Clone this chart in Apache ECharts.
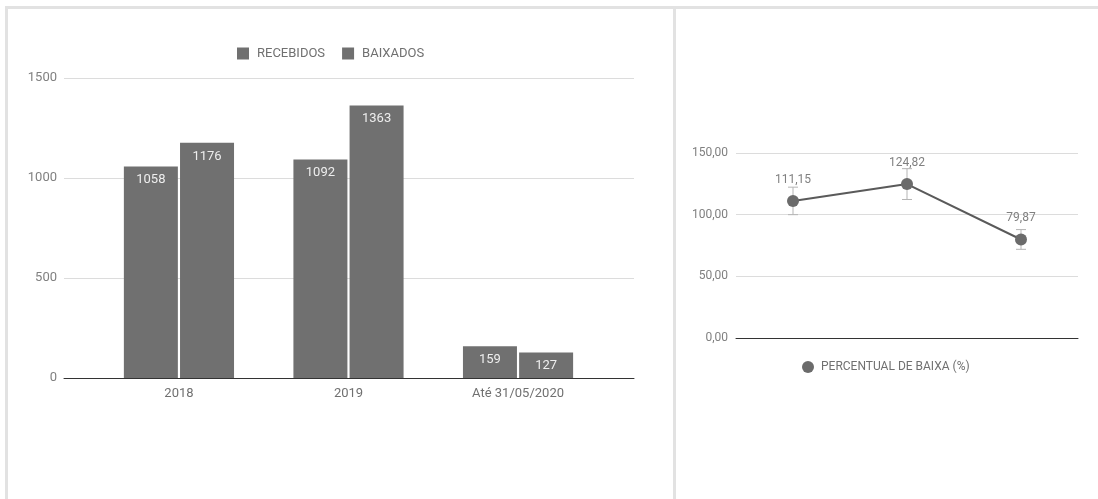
<!DOCTYPE html>
<html>
<head>
<meta charset="utf-8">
<script src="https://cdn.jsdelivr.net/npm/echarts@6/dist/echarts.min.js"></script>
<style>
html,body{margin:0;padding:0;background:#fff;}
#c{width:1098px;height:499px;}
</style>
</head>
<body>
<div id="c"></div>
<script>
// ---- data ----
const categories = ['2018', '2019', 'Até 31/05/2020'];
const recebidos = [1058, 1092, 159];
const baixados = [1176, 1363, 127];
const barTicks = [0, 500, 1000, 1500];
const percentual = [111.15, 124.82, 79.87];
const errLow = [100.0, 112.3, 71.9];
const errHigh = [122.3, 137.3, 87.9];
const pctTicks = [0, 50, 100, 150];

const FONT = 'Roboto, "Noto Sans", sans-serif';
const BAR_COLOR = '#707070';

const chart = echarts.init(document.getElementById('c'), null, {renderer: 'canvas'});

const fmtPct = v => v.toFixed(2).replace('.', ',');

const option = {
  animation: false,
  backgroundColor: '#fff',
  textStyle: {fontFamily: FONT},
  graphic: [
    {type: 'rect', shape: {x: 5, y: 6, width: 1093, height: 3}, style: {fill: '#e2e2e2'}, silent: true},
    {type: 'rect', shape: {x: 5, y: 6, width: 3, height: 493}, style: {fill: '#e2e2e2'}, silent: true},
    {type: 'rect', shape: {x: 673, y: 6, width: 3, height: 493}, style: {fill: '#e2e2e2'}, silent: true}
  ],
  legend: [
    {
      data: ['RECEBIDOS', 'BAIXADOS'],
      left: 232, top: 42,
      icon: 'rect', itemWidth: 12, itemHeight: 12, itemGap: 17,
      textStyle: {color: '#707070', fontSize: 13, fontFamily: FONT, padding: [0, 0, 0, 3]}
    },
    {
      data: ['PERCENTUAL DE BAIXA (%)'],
      left: 797, top: 356,
      icon: 'circle', itemWidth: 12, itemHeight: 12,
      textStyle: {color: '#707070', fontSize: 12, fontFamily: FONT, padding: [0, 0, 0, 2]}
    }
  ],
  grid: [
    {left: 64, right: 464, top: 78, bottom: 121},
    {left: 736, right: 20, top: 153, bottom: 161}
  ],
  xAxis: [
    {
      gridIndex: 0, type: 'value', min: -0.678, max: 2.684,
      axisLine: {show: true, lineStyle: {color: '#333', width: 1}},
      axisTick: {show: false},
      splitLine: {show: false},
      axisLabel: {
        customValues: [0, 1, 2],
        formatter: v => categories[Math.round(v)],
        color: '#707070', fontSize: 13, fontFamily: FONT, margin: 9
      }
    },
    {
      gridIndex: 1, type: 'category', data: categories, boundaryGap: true,
      axisLine: {show: true, lineStyle: {color: '#333', width: 1}},
      axisTick: {show: false},
      axisLabel: {show: false}
    }
  ],
  yAxis: [
    {
      gridIndex: 0, type: 'value', min: barTicks[0], max: barTicks[barTicks.length - 1], interval: 500,
      axisLine: {show: false}, axisTick: {show: false},
      splitLine: {lineStyle: {color: '#dcdcdc', width: 1}},
      axisLabel: {color: '#808080', fontSize: 13, fontFamily: FONT, margin: 7, formatter: v => String(v)}
    },
    {
      gridIndex: 1, type: 'value', min: pctTicks[0], max: pctTicks[pctTicks.length - 1], interval: 50,
      axisLine: {show: false}, axisTick: {show: false},
      splitLine: {lineStyle: {color: '#dcdcdc', width: 1}},
      axisLabel: {color: '#808080', fontSize: 12, fontFamily: FONT, margin: 8, formatter: fmtPct}
    }
  ],
  series: [
    {
      name: 'RECEBIDOS', type: 'bar', xAxisIndex: 0, yAxisIndex: 0,
      data: recebidos.map((v, i) => [i, v]),
      barWidth: 54, barGap: '4%',
      itemStyle: {color: BAR_COLOR},
      label: {show: true, position: 'insideTop', distance: 7, color: '#eeeeee', fontSize: 13, fontFamily: FONT,
        formatter: p => p.value[1]}
    },
    {
      name: 'BAIXADOS', type: 'bar', xAxisIndex: 0, yAxisIndex: 0,
      data: baixados.map((v, i) => [i, v]),
      barWidth: 54, barGap: '4%',
      itemStyle: {color: BAR_COLOR},
      label: {show: true, position: 'insideTop', distance: 7, color: '#eeeeee', fontSize: 13, fontFamily: FONT,
        formatter: p => p.value[1]}
    },
    {
      name: 'erro', type: 'custom', xAxisIndex: 1, yAxisIndex: 1, z: 1,
      data: percentual.map((v, i) => [i, errLow[i], errHigh[i]]),
      renderItem: function (params, api) {
        const lo = api.coord([api.value(0), api.value(1)]);
        const hi = api.coord([api.value(0), api.value(2)]);
        const hw = 5;
        const st = {stroke: '#b5b5b5', lineWidth: 1};
        return {
          type: 'group',
          children: [
            {type: 'line', shape: {x1: lo[0], y1: lo[1], x2: hi[0], y2: hi[1]}, style: st},
            {type: 'line', shape: {x1: lo[0] - hw, y1: lo[1], x2: lo[0] + hw, y2: lo[1]}, style: st},
            {type: 'line', shape: {x1: hi[0] - hw, y1: hi[1], x2: hi[0] + hw, y2: hi[1]}, style: st}
          ]
        };
      },
      silent: true
    },
    {
      name: 'PERCENTUAL DE BAIXA (%)', type: 'line', xAxisIndex: 1, yAxisIndex: 1, z: 3,
      data: percentual,
      symbol: 'circle', symbolSize: 12,
      lineStyle: {color: '#5a5a5a', width: 2},
      itemStyle: {color: '#6b6b6b'},
      label: {show: true, position: 'top', distance: 9, color: '#808080', fontSize: 12, fontFamily: FONT,
        formatter: p => fmtPct(p.value)}
    }
  ]
};

chart.setOption(option);
</script>
</body>
</html>
